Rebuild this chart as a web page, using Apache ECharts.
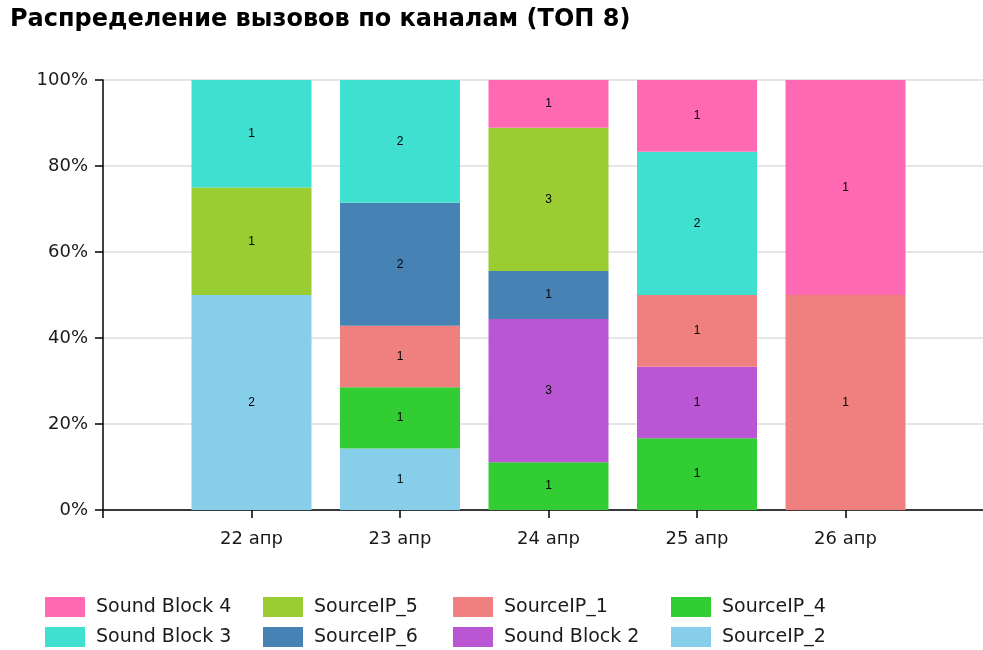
<!DOCTYPE html>
<html>
<head>
<meta charset="utf-8">
<script src="https://cdn.jsdelivr.net/npm/echarts@6/dist/echarts.min.js"></script>
<style>
  html, body { margin: 0; padding: 0; background: #fff; }
  #chart { width: 983px; height: 650px; }
</style>
</head>
<body>
<div id="chart"></div>
<script>
// Days on the axis; blank slots pad both ends of the axis
const days = ['', '22 апр', '23 апр', '24 апр', '25 апр', '26 апр', ''];

// Call counts per channel, one entry per day slot (null = no calls)
const sourceIP2   = [null, 2, 1, null, null, null, null];
const sourceIP4   = [null, null, 1, 1, 1, null, null];
const soundBlock2 = [null, null, null, 3, 1, null, null];
const sourceIP1   = [null, null, 1, null, 1, 1, null];
const sourceIP6   = [null, null, 2, 1, null, null, null];
const sourceIP5   = [null, 1, null, 3, null, null, null];
const soundBlock3 = [null, 1, 2, null, 2, null, null];
const soundBlock4 = [null, null, null, 1, 1, 1, null];

const percentTicks = [0, 20, 40, 60, 80, 100];

// Stacked bottom to top
const channels = [
  { name: 'SourceIP_2',    counts: sourceIP2,   color: '#87CEEB' },
  { name: 'SourceIP_4',    counts: sourceIP4,   color: '#32CD32' },
  { name: 'Sound Block 2', counts: soundBlock2, color: '#BA55D3' },
  { name: 'SourceIP_1',    counts: sourceIP1,   color: '#F08080' },
  { name: 'SourceIP_6',    counts: sourceIP6,   color: '#4682B4' },
  { name: 'SourceIP_5',    counts: sourceIP5,   color: '#9ACD32' },
  { name: 'Sound Block 3', counts: soundBlock3, color: '#40E0D0' },
  { name: 'Sound Block 4', counts: soundBlock4, color: '#FF69B4' }
];

// Daily totals used to normalise each stack to 100%
const totals = days.map((d, i) => channels.reduce((s, c) => s + (c.counts[i] || 0), 0));

const series = channels.map(c => ({
  name: c.name,
  type: 'bar',
  stack: 'share',
  barWidth: 120,
  itemStyle: { color: c.color },
  label: {
    show: true,
    position: 'inside',
    color: '#000',
    fontSize: 12,
    fontFamily: 'Liberation Sans, Arial, sans-serif',
    formatter: p => p.data && p.data.count != null ? String(p.data.count) : ''
  },
  data: c.counts.map((v, i) => v == null ? '-' : { value: v / totals[i] * 100, count: v })
}));

// Legend: four columns of two rows, one legend block per entry
const legendLayout = [
  { name: 'Sound Block 4', left: 45,  top: 597 },
  { name: 'Sound Block 3', left: 45,  top: 627 },
  { name: 'SourceIP_5',    left: 263, top: 597 },
  { name: 'SourceIP_6',    left: 263, top: 627 },
  { name: 'SourceIP_1',    left: 453, top: 597 },
  { name: 'Sound Block 2', left: 453, top: 627 },
  { name: 'SourceIP_4',    left: 671, top: 597 },
  { name: 'SourceIP_2',    left: 671, top: 627 }
];

const uiFont = 'DejaVu Sans, Verdana, sans-serif';

const chart = echarts.init(document.getElementById('chart'), null, { renderer: 'canvas' });
chart.setOption({
  animation: false,
  title: {
    text: 'Распределение вызовов по каналам (ТОП 8)',
    left: 10,
    top: 8,
    padding: 0,
    textStyle: { fontFamily: uiFont, fontWeight: 'bold', fontSize: 24, color: '#000' }
  },
  legend: legendLayout.map(l => ({
    left: l.left,
    top: l.top,
    padding: 0,
    itemWidth: 40,
    itemHeight: 20,
    icon: 'rect',
    selectedMode: false,
    data: [l.name],
    textStyle: { fontFamily: uiFont, fontSize: 19, color: '#1a1a1a', padding: [0, 0, 0, 6] }
  })),
  grid: { left: 103, right: -11, top: 80, bottom: 140, outerBoundsMode: 'none', containLabel: false },
  xAxis: {
    type: 'category',
    data: days,
    boundaryGap: false,
    axisLine: { lineStyle: { color: '#000', width: 1.5 } },
    axisTick: { show: true, length: 8, lineStyle: { color: '#000', width: 1.5 } },
    axisLabel: {
      margin: 20,
      fontFamily: uiFont,
      fontSize: 18,
      color: '#1a1a1a'
    },
    splitLine: { show: false }
  },
  yAxis: {
    type: 'value',
    min: 0,
    max: 100,
    interval: 20,
    axisLine: { show: true, lineStyle: { color: '#000', width: 1.5 } },
    axisTick: { show: true, length: 8, lineStyle: { color: '#000', width: 1.5 } },
    axisLabel: {
      margin: 15,
      fontFamily: uiFont,
      fontSize: 18,
      color: '#1a1a1a',
      formatter: v => percentTicks.includes(v) ? v + '%' : ''
    },
    splitLine: { show: true, lineStyle: { color: '#dcdcdc', width: 1.5 } }
  },
  series: series
});
</script>
</body>
</html>
